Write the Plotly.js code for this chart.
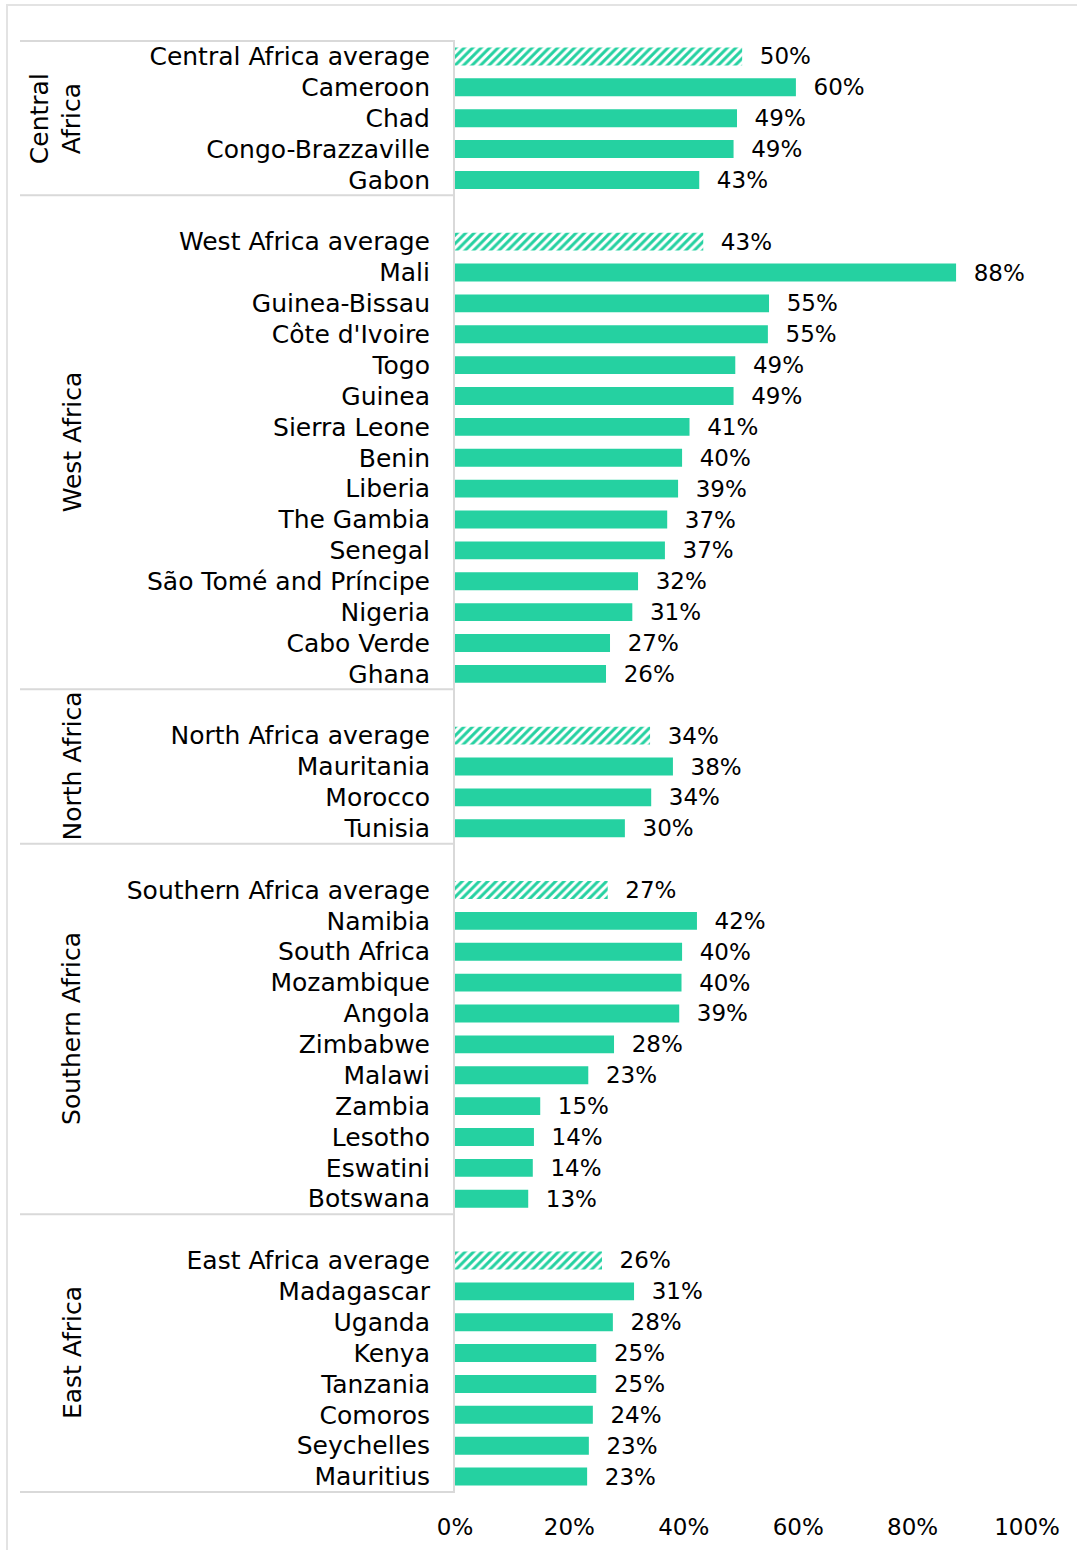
<!DOCTYPE html>
<html>
<head>
<meta charset="utf-8">
<script src="https://cdn.plot.ly/plotly-3.0.1.min.js"></script>
<style>html,body{margin:0;padding:0;background:#fff;}</style>
</head>
<body>
<div id="chart" style="width:1077px;height:1550px;"></div>
<script>
// ---- data ----
const groupNames = ['Central<br>Africa', 'West Africa', 'North Africa', 'Southern Africa', 'East Africa'];

const centralLabels = ['Central Africa average', 'Cameroon', 'Chad', 'Congo-Brazzaville', 'Gabon'];
const centralValues = [0.502, 0.596, 0.493, 0.487, 0.427];

const westLabels = ['West Africa average', 'Mali', 'Guinea-Bissau', "Côte d'Ivoire", 'Togo', 'Guinea',
  'Sierra Leone', 'Benin', 'Liberia', 'The Gambia', 'Senegal', 'São Tomé and Príncipe', 'Nigeria',
  'Cabo Verde', 'Ghana'];
const westValues = [0.434, 0.876, 0.549, 0.547, 0.49, 0.487, 0.41, 0.397, 0.39, 0.371, 0.367, 0.32,
  0.31, 0.271, 0.264];

const northLabels = ['North Africa average', 'Mauritania', 'Morocco', 'Tunisia'];
const northValues = [0.341, 0.381, 0.343, 0.297];

const southernLabels = ['Southern Africa average', 'Namibia', 'South Africa', 'Mozambique', 'Angola',
  'Zimbabwe', 'Malawi', 'Zambia', 'Lesotho', 'Eswatini', 'Botswana'];
const southernValues = [0.267, 0.423, 0.397, 0.396, 0.392, 0.278, 0.233, 0.149, 0.138, 0.136, 0.128];

const eastLabels = ['East Africa average', 'Madagascar', 'Uganda', 'Kenya', 'Tanzania', 'Comoros',
  'Seychelles', 'Mauritius'];
const eastValues = [0.257, 0.313, 0.276, 0.247, 0.247, 0.241, 0.234, 0.231];

const xTickVals = [0, 0.2, 0.4, 0.6, 0.8, 1.0];

// ---- build rows ----
const groupLabels = [centralLabels, westLabels, northLabels, southernLabels, eastLabels];
const groupValues = [centralValues, westValues, northValues, southernValues, eastValues];

const TEAL = '#25D1A1';
const GREY = '#D9D9D9';

const cats = [], vals = [], shapesPat = [];
const groupSpans = [];
groupLabels.forEach((labels, gi) => {
  const start = cats.length;
  if (gi > 0) { cats.push(' '.repeat(gi)); vals.push(null); shapesPat.push(''); }
  labels.forEach((lab, i) => {
    cats.push(lab); vals.push(groupValues[gi][i]);
    shapesPat.push(lab.indexOf('average') >= 0 ? '/' : '');
  });
  groupSpans.push([start - 0.5, cats.length - 0.5]);
});

const trace = {
  type: 'bar',
  orientation: 'h',
  x: vals,
  y: cats,
  marker: {
    color: TEAL,
    line: {width: 0},
    pattern: {shape: shapesPat, fgcolor: TEAL, bgcolor: '#ffffff', size: 6, solidity: 0.5, fillmode: 'replace'}
  },
  texttemplate: '\u00a0\u00a0%{x:.0%}',
  textposition: 'outside',
  constraintext: 'none',
  cliponaxis: false,
  textfont: {family: 'DejaVu Sans', size: 23, color: '#000'},
  hoverinfo: 'none'
};

const L = 455, W = 572, T = 40, H = 1453;
const px2paperX = px => (px - L) / W;
const px2paperY = py => 1 - (py - T) / H;

const shapes = [];
// outer border
shapes.push({type: 'rect', xref: 'paper', yref: 'paper',
  x0: px2paperX(7), x1: px2paperX(1090), y0: px2paperY(1570), y1: px2paperY(5),
  line: {color: '#E3E3E3', width: 2}, fillcolor: 'rgba(0,0,0,0)', layer: 'below'});
// group separators
const sepYs = [groupSpans[0][0]].concat(groupSpans.map(s => s[1]));
sepYs.forEach(yv => {
  shapes.push({type: 'line', xref: 'paper', yref: 'y', x0: px2paperX(20), x1: 0, y0: yv, y1: yv,
    line: {color: GREY, width: 2}});
});

const annotations = groupNames.map((g, gi) => ({
  xref: 'paper', yref: 'y',
  x: gi === 0 ? px2paperX(56) : px2paperX(72),
  y: (groupSpans[gi][0] + groupSpans[gi][1]) / 2,
  text: g, textangle: -90, showarrow: false,
  xanchor: 'center', yanchor: 'middle',
  font: {family: 'DejaVu Sans', size: 25, color: '#000'}
}));

const layout = {
  width: 1077, height: 1550,
  margin: {l: L, r: 1077 - L - W, t: T, b: 1550 - T - H, pad: 0},
  paper_bgcolor: '#fff', plot_bgcolor: '#fff',
  showlegend: false,
  bargap: 0.42,
  font: {family: 'DejaVu Sans', size: 23, color: '#000'},
  xaxis: {range: [0, 1], tickvals: xTickVals, tickformat: '.0%', showgrid: false, zeroline: false,
    showline: false, ticks: '', ticklabelstandoff: 18, tickfont: {family: 'DejaVu Sans', size: 23, color: '#000'}, fixedrange: true},
  yaxis: {type: 'category', categoryorder: 'array', categoryarray: cats, autorange: 'reversed',
    range: [cats.length - 0.5, -0.5],
    showline: true, linecolor: GREY, linewidth: 2, showgrid: false, zeroline: false, ticks: '',
    ticklabelstandoff: 18, tickfont: {family: 'DejaVu Sans', size: 25, color: '#000'}, fixedrange: true},
  shapes: shapes,
  annotations: annotations
};

Plotly.newPlot('chart', [trace], layout, {displayModeBar: false, staticPlot: true});
</script>
</body>
</html>
